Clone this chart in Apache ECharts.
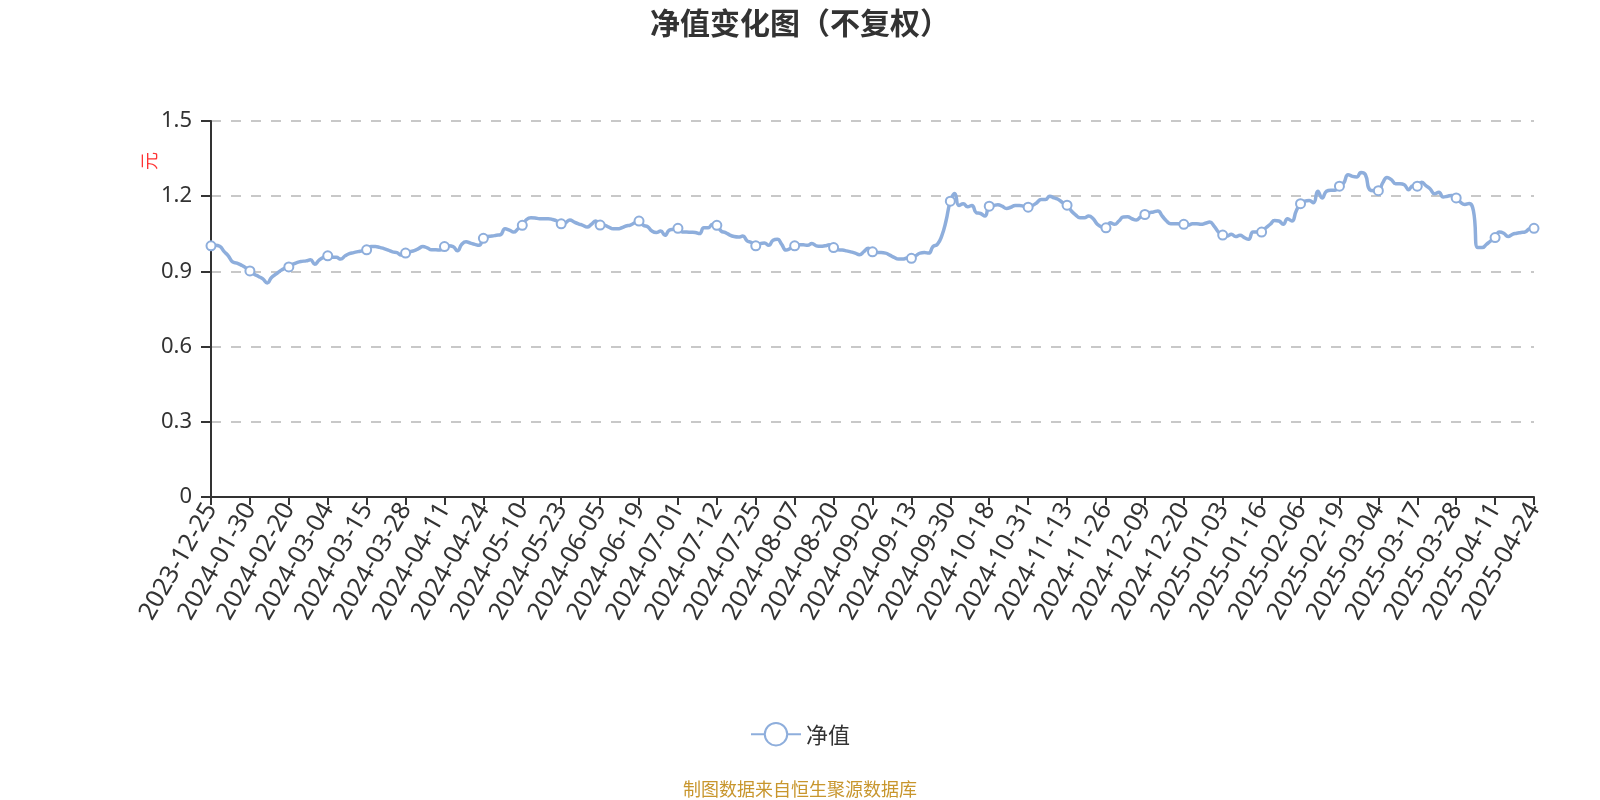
<!DOCTYPE html>
<html>
<head>
<meta charset="utf-8">
<title>净值变化图</title>
<script src="https://cdn.jsdelivr.net/npm/echarts@6/dist/echarts.min.js"></script>
<style>
  html, body { margin: 0; padding: 0; background: #fff; }
  #chart { width: 1600px; height: 800px; }
</style>
</head>
<body>
<div id="chart"></div>
<script>
// trading dates (fund NAV days, incl. quarter-end)
const dates = [
  '2023-12-25', '2023-12-29', '2023-12-31',
  '2024-01-05', '2024-01-12', '2024-01-19', '2024-01-24', '2024-01-26', '2024-01-29', '2024-01-30', '2024-01-31',
  '2024-02-01', '2024-02-02', '2024-02-05', '2024-02-06', '2024-02-07', '2024-02-08', '2024-02-19', '2024-02-20',
  '2024-02-21', '2024-02-22', '2024-02-23', '2024-02-26', '2024-02-27', '2024-02-28', '2024-02-29',
  '2024-03-01', '2024-03-04', '2024-03-05', '2024-03-06', '2024-03-07', '2024-03-08', '2024-03-11', '2024-03-12',
  '2024-03-13', '2024-03-14', '2024-03-15', '2024-03-18', '2024-03-19', '2024-03-20', '2024-03-21', '2024-03-22',
  '2024-03-25', '2024-03-26', '2024-03-27', '2024-03-28', '2024-03-29', '2024-03-31',
  '2024-04-01', '2024-04-02', '2024-04-03', '2024-04-08', '2024-04-09', '2024-04-10', '2024-04-11', '2024-04-12',
  '2024-04-15', '2024-04-16', '2024-04-17', '2024-04-18', '2024-04-19', '2024-04-22', '2024-04-23', '2024-04-24',
  '2024-04-25', '2024-04-26', '2024-04-29', '2024-04-30',
  '2024-05-06', '2024-05-07', '2024-05-08', '2024-05-09', '2024-05-10', '2024-05-13', '2024-05-14', '2024-05-15',
  '2024-05-16', '2024-05-17', '2024-05-20', '2024-05-21', '2024-05-22', '2024-05-23', '2024-05-24', '2024-05-27',
  '2024-05-28', '2024-05-29', '2024-05-30', '2024-05-31',
  '2024-06-03', '2024-06-04', '2024-06-05', '2024-06-06', '2024-06-07', '2024-06-11', '2024-06-12', '2024-06-13',
  '2024-06-14', '2024-06-17', '2024-06-18', '2024-06-19', '2024-06-20', '2024-06-21', '2024-06-24', '2024-06-25',
  '2024-06-26', '2024-06-27', '2024-06-28', '2024-06-30',
  '2024-07-01', '2024-07-02', '2024-07-03', '2024-07-04', '2024-07-05', '2024-07-08', '2024-07-09', '2024-07-10',
  '2024-07-11', '2024-07-12', '2024-07-15', '2024-07-16', '2024-07-17', '2024-07-18', '2024-07-19', '2024-07-22',
  '2024-07-23', '2024-07-24', '2024-07-25', '2024-07-26', '2024-07-29', '2024-07-30', '2024-07-31',
  '2024-08-01', '2024-08-02', '2024-08-05', '2024-08-06', '2024-08-07', '2024-08-08', '2024-08-09', '2024-08-12',
  '2024-08-13', '2024-08-14', '2024-08-15', '2024-08-16', '2024-08-19', '2024-08-20', '2024-08-21', '2024-08-22',
  '2024-08-23', '2024-08-26', '2024-08-27', '2024-08-28', '2024-08-29', '2024-08-30',
  '2024-09-02', '2024-09-03', '2024-09-04', '2024-09-05', '2024-09-06', '2024-09-09', '2024-09-10', '2024-09-11',
  '2024-09-12', '2024-09-13', '2024-09-18', '2024-09-19', '2024-09-20', '2024-09-23', '2024-09-24', '2024-09-25',
  '2024-09-26', '2024-09-27', '2024-09-30',
  '2024-10-08', '2024-10-09', '2024-10-10', '2024-10-11', '2024-10-14', '2024-10-15', '2024-10-16', '2024-10-17',
  '2024-10-18', '2024-10-21', '2024-10-22', '2024-10-23', '2024-10-24', '2024-10-25', '2024-10-28', '2024-10-29',
  '2024-10-30', '2024-10-31',
  '2024-11-01', '2024-11-04', '2024-11-05', '2024-11-06', '2024-11-07', '2024-11-08', '2024-11-11', '2024-11-12',
  '2024-11-13', '2024-11-14', '2024-11-15', '2024-11-18', '2024-11-19', '2024-11-20', '2024-11-21', '2024-11-22',
  '2024-11-25', '2024-11-26', '2024-11-27', '2024-11-28', '2024-11-29',
  '2024-12-02', '2024-12-03', '2024-12-04', '2024-12-05', '2024-12-06', '2024-12-09', '2024-12-10', '2024-12-11',
  '2024-12-12', '2024-12-13', '2024-12-16', '2024-12-17', '2024-12-18', '2024-12-19', '2024-12-20', '2024-12-23',
  '2024-12-24', '2024-12-25', '2024-12-26', '2024-12-27', '2024-12-30', '2024-12-31',
  '2025-01-02', '2025-01-03', '2025-01-06', '2025-01-07', '2025-01-08', '2025-01-09', '2025-01-10', '2025-01-13',
  '2025-01-14', '2025-01-15', '2025-01-16', '2025-01-17', '2025-01-20', '2025-01-21', '2025-01-22', '2025-01-23',
  '2025-01-24', '2025-01-27',
  '2025-02-05', '2025-02-06', '2025-02-07', '2025-02-10', '2025-02-11', '2025-02-12', '2025-02-13', '2025-02-14',
  '2025-02-17', '2025-02-18', '2025-02-19', '2025-02-20', '2025-02-21', '2025-02-24', '2025-02-25', '2025-02-26',
  '2025-02-27', '2025-02-28',
  '2025-03-03', '2025-03-04', '2025-03-05', '2025-03-06', '2025-03-07', '2025-03-10', '2025-03-11', '2025-03-12',
  '2025-03-13', '2025-03-14', '2025-03-17', '2025-03-18', '2025-03-19', '2025-03-20', '2025-03-21', '2025-03-24',
  '2025-03-25', '2025-03-26', '2025-03-27', '2025-03-28', '2025-03-31',
  '2025-04-01', '2025-04-02', '2025-04-03', '2025-04-07', '2025-04-08', '2025-04-09', '2025-04-10', '2025-04-11',
  '2025-04-14', '2025-04-15', '2025-04-16', '2025-04-17', '2025-04-18', '2025-04-21', '2025-04-22', '2025-04-23',
  '2025-04-24'
]

// 单位净值（元）
const navValues = [
  1.002, 1.004, 1.000, 0.980, 0.962, 0.938, 0.933, 0.925, 0.915, 0.902,
  0.889, 0.880, 0.870, 0.854, 0.876, 0.889, 0.902, 0.912, 0.918, 0.929,
  0.936, 0.940, 0.942, 0.946, 0.929, 0.945, 0.956, 0.962, 0.956, 0.956,
  0.949, 0.962, 0.971, 0.975, 0.979, 0.982, 0.986,
  0.999, 0.999, 0.996, 0.991, 0.985, 0.978, 0.975, 0.965, 0.973, 0.979,
  0.983, 0.991, 0.999, 0.994, 0.986, 0.986, 0.985, 0.999, 1.002, 0.999,
  0.982, 1.008, 1.018, 1.013, 1.008, 1.004, 1.032, 1.039, 1.041, 1.044,
  1.047, 1.070, 1.065, 1.057, 1.070, 1.084, 1.107, 1.114,
  1.113,
  1.110, 1.110, 1.110, 1.107, 1.101, 1.090, 1.094, 1.105, 1.097, 1.090,
  1.084, 1.077, 1.088, 1.101, 1.085, 1.084, 1.077, 1.070, 1.070, 1.074,
  1.081, 1.085, 1.094, 1.101, 1.084, 1.078, 1.061, 1.055, 1.061, 1.044,
  1.065, 1.068, 1.072, 1.057, 1.057, 1.056, 1.055, 1.051,
  1.074, 1.074, 1.088, 1.084, 1.061, 1.055, 1.045, 1.039, 1.037, 1.041,
  1.022, 1.015, 1.002, 1.011, 1.013, 1.004, 1.024, 1.028, 1.008, 0.985,
  0.992, 1.002, 1.006, 1.006, 1.004, 1.011, 1.002, 1.000, 1.002, 1.006,
  0.995, 0.986, 0.985, 0.982, 0.978, 0.973, 0.966,
  0.979, 0.992, 0.978, 0.975, 0.975, 0.973, 0.965, 0.956, 0.949, 0.949,
  0.953, 0.952, 0.962, 0.973, 0.975, 0.973, 0.999, 1.008, 1.041, 1.101,
  1.180, 1.211, 1.163, 1.170, 1.158, 1.163, 1.134, 1.131, 1.121, 1.160,
  1.163, 1.166, 1.160, 1.151, 1.156, 1.163, 1.163, 1.160, 1.156,
  1.163, 1.174, 1.187, 1.187, 1.200, 1.193, 1.187, 1.174, 1.164, 1.141,
  1.125, 1.114, 1.114, 1.121, 1.111, 1.088, 1.077, 1.074, 1.094, 1.088,
  1.101, 1.117, 1.118, 1.110, 1.105, 1.117, 1.127, 1.134, 1.137, 1.141,
  1.121, 1.101, 1.090, 1.090, 1.090, 1.088, 1.085, 1.090,
  1.090, 1.088, 1.092, 1.097, 1.081, 1.057, 1.045, 1.041, 1.048, 1.039,
  1.044, 1.035, 1.028, 1.057, 1.057, 1.057, 1.074, 1.088, 1.103, 1.101,
  1.088, 1.110, 1.101, 1.141, 1.170, 1.180, 1.183, 1.174, 1.220, 1.193,
  1.220, 1.224, 1.224, 1.240, 1.253, 1.286, 1.279, 1.277, 1.295,
  1.286, 1.226, 1.222, 1.222, 1.253, 1.275, 1.266, 1.250, 1.250, 1.246,
  1.226, 1.242, 1.240, 1.256, 1.242, 1.229, 1.210, 1.216, 1.197, 1.200,
  1.203, 1.193, 1.176, 1.167, 1.171, 1.141, 0.995, 0.995, 1.008, 1.022,
  1.035, 1.057, 1.052, 1.039, 1.048, 1.052, 1.055, 1.058, 1.070, 1.072
]

const seriesName = '净值'
const chartTitle = '净值变化图（不复权）'
const sourceNote = '制图数据来自恒生聚源数据库'
const unitName = '元'

const FONT = '"Noto Sans CJK SC", sans-serif'
const NUM_FONT = '"Noto Sans", "Noto Sans CJK SC", sans-serif'
const LINE_COLOR = '#8eaedc'

const chart = echarts.init(document.getElementById('chart'))

chart.setOption({
  animation: false,
  textStyle: { fontFamily: FONT },
  title: [
    {
      text: chartTitle,
      left: 'center',
      top: 3,
      textStyle: { fontSize: 30, fontWeight: 'bold', color: '#333', fontFamily: FONT }
    },
    {
      text: sourceNote,
      left: 'center',
      top: 775,
      textStyle: { fontSize: 18, fontWeight: 'normal', color: '#c8962d', fontFamily: FONT }
    }
  ],
  graphic: [
    {
      type: 'text',
      x: 149,
      y: 161,
      rotation: Math.PI / 2,
      style: {
        text: unitName,
        fill: '#ff3333',
        font: '18px ' + FONT,
        align: 'center',
        verticalAlign: 'middle'
      }
    }
  ],
  legend: {
    data: [seriesName],
    left: 'center',
    top: 717,
    itemWidth: 50,
    itemHeight: 28,
    textStyle: { fontSize: 22, color: '#333', fontFamily: FONT }
  },
  grid: {
    left: 211,
    right: 66,
    top: 121,
    bottom: 303
  },
  xAxis: {
    type: 'category',
    data: dates,
    boundaryGap: false,
    axisLine: { lineStyle: { color: '#333', width: 2 } },
    axisTick: { show: true, interval: 8, length: 8, lineStyle: { color: '#333', width: 2 } },
    axisLabel: {
      interval: 8,
      rotate: 60,
      margin: 8,
      fontSize: 25,
      color: '#333',
      fontFamily: NUM_FONT
    }
  },
  yAxis: {
    type: 'value',
    min: 0,
    max: 1.5,
    interval: 0.3,
    axisLine: { show: true, lineStyle: { color: '#333', width: 2 } },
    axisTick: { show: true, length: 10, lineStyle: { color: '#333', width: 2 } },
    axisLabel: { fontSize: 22, color: '#333', margin: 19, fontFamily: NUM_FONT },
    splitLine: { lineStyle: { color: '#c8c8c8', width: 2, type: [10, 10] } }
  },
  series: [
    {
      name: seriesName,
      type: 'line',
      data: navValues,
      smooth: true,
      symbol: 'emptyCircle',
      symbolSize: 9,
      showAllSymbol: 'auto',
      itemStyle: { color: LINE_COLOR, borderWidth: 2 },
      lineStyle: { color: LINE_COLOR, width: 3.5 }
    }
  ]
})
</script>
</body>
</html>
